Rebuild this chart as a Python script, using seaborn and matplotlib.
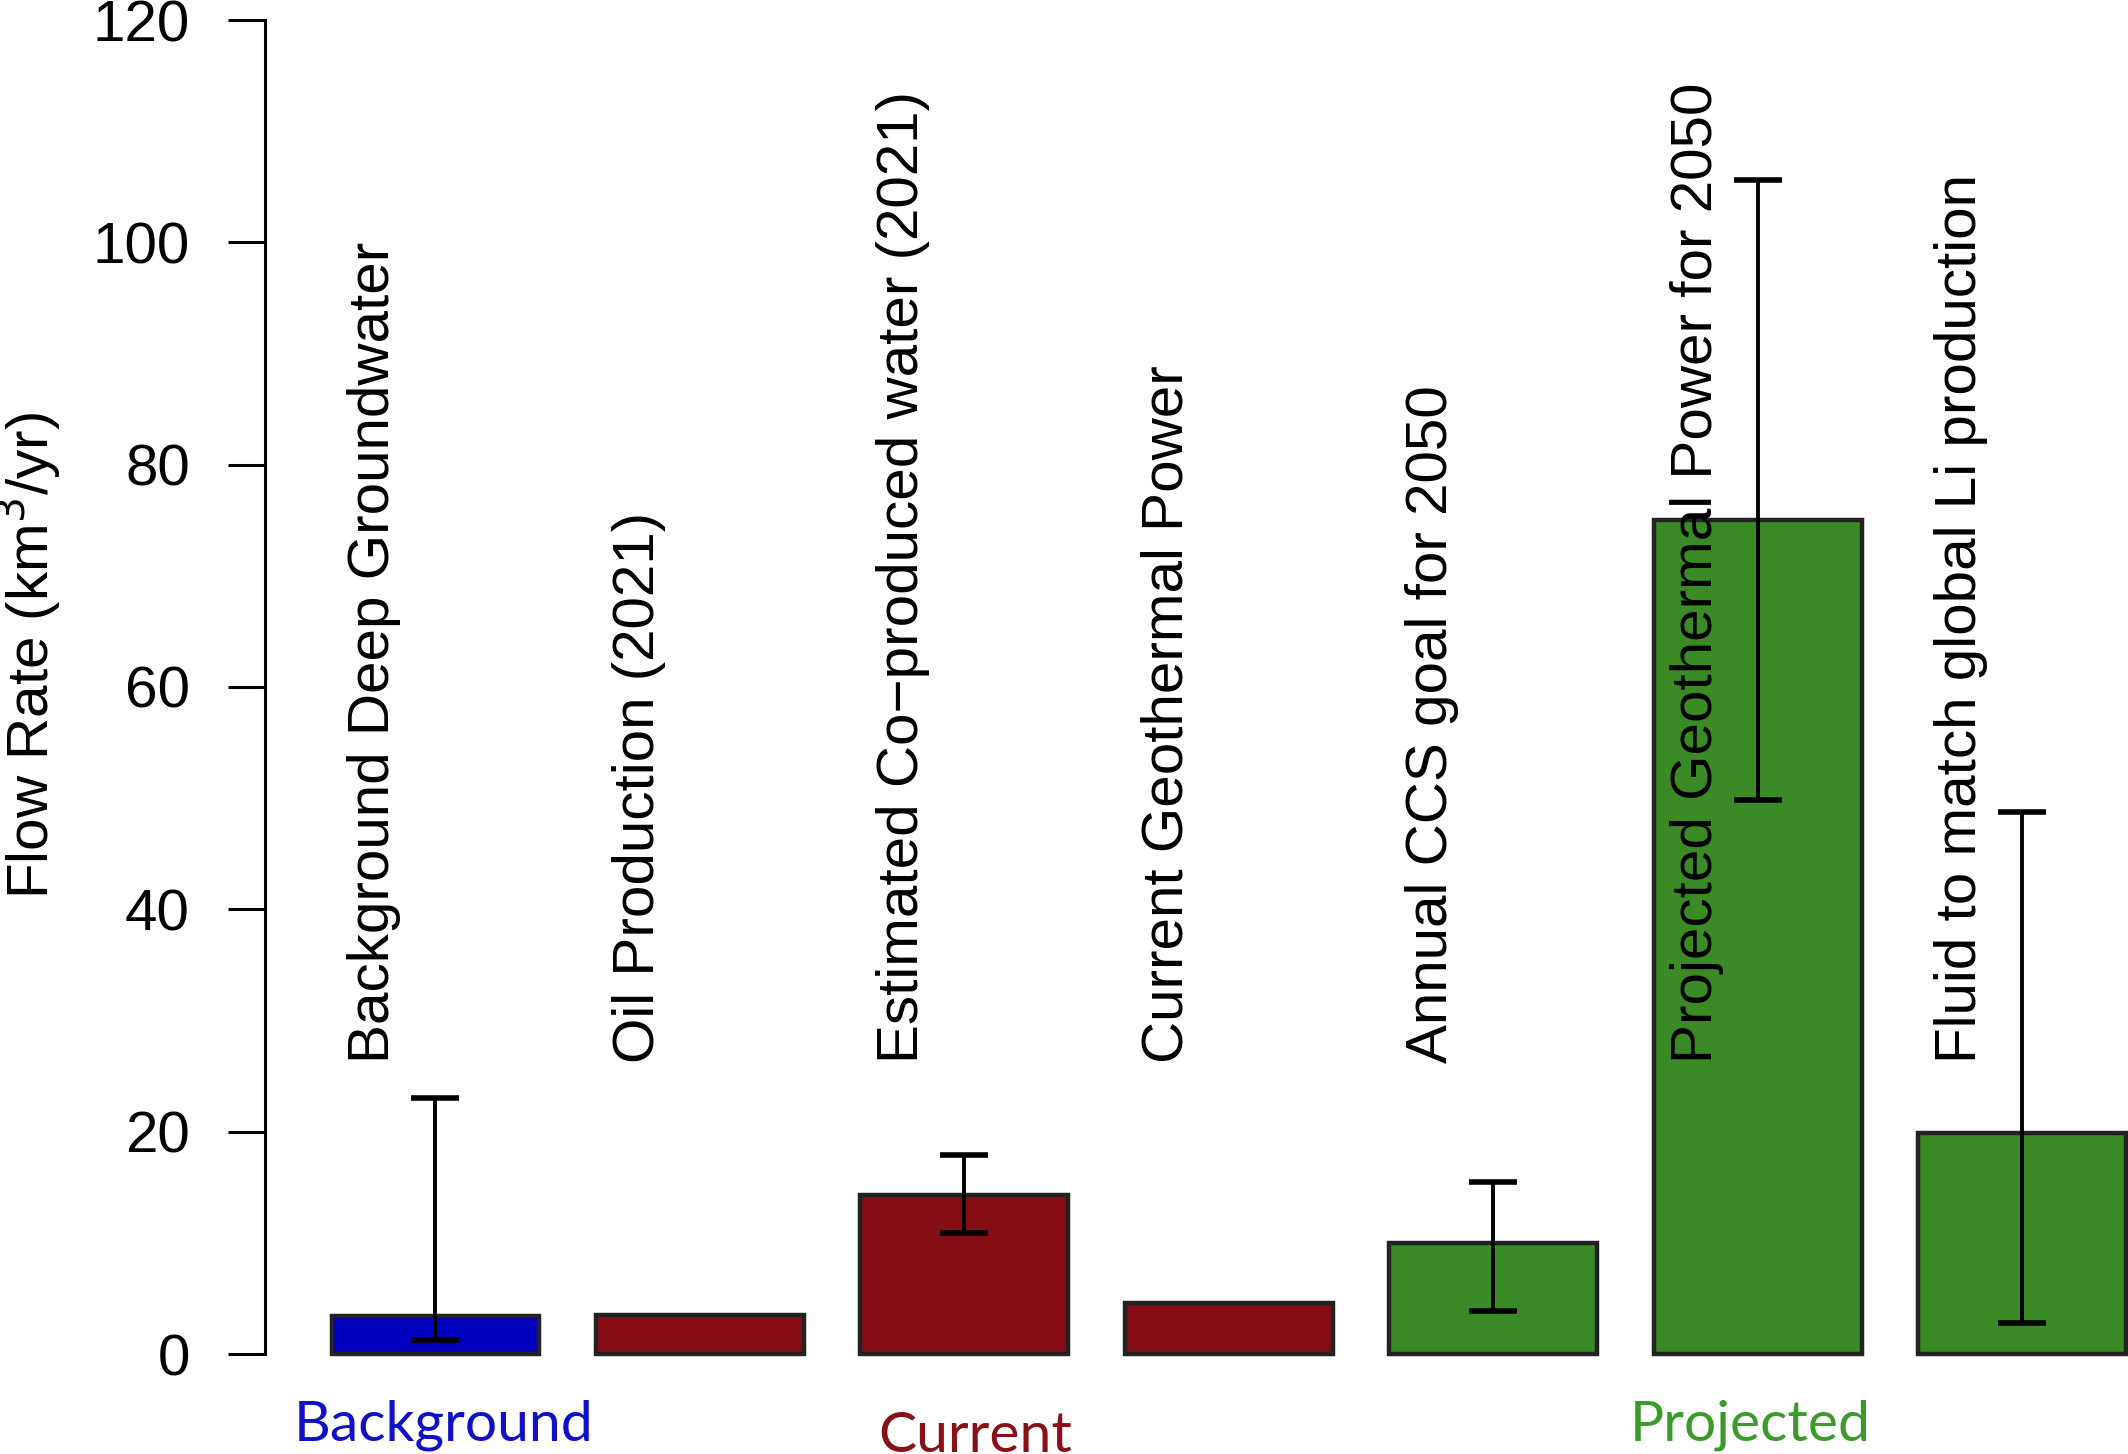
import matplotlib
matplotlib.use("Agg")
import matplotlib.pyplot as plt
import seaborn as sns
import numpy as np

# data
labels = ["Background Deep Groundwater", "Oil Production (2021)",
          "Estimated Co\u2212produced water (2021)", "Current Geothermal Power",
          "Annual CCS goal for 2050", "Projected Geothermal Power for 2050",
          "Fluid to match global Li production"]
flow = [3.4, 3.5, 14.3, 4.6, 10.0, 75.0, 19.9]
err_low = [1.3, np.nan, 10.9, np.nan, 3.9, 49.8, 2.8]
err_high = [23.0, np.nan, 17.9, np.nan, 15.5, 105.6, 48.8]
group = ["Background", "Current", "Current", "Current", "Projected", "Projected", "Projected"]

group_colors = {"Background": "#0000BE", "Current": "#870D15", "Projected": "#3A8A25"}
group_text = {"Background": "#1010C8", "Current": "#8A1018", "Projected": "#3A9A2A"}

sns.set_style("white")
plt.rcParams["font.family"] = ["Liberation Sans", "DejaVu Sans"]
plt.rcParams["text.color"] = "black"
plt.rcParams["ytick.color"] = "black"

fig = plt.figure(figsize=(21.28, 14.54), dpi=100)
ax = fig.add_axes([265 / 2128, 100 / 1454, 1 - 265 / 2128, 1334 / 1454])

sns.barplot(x=labels, y=flow, hue=labels, palette=[group_colors[g] for g in group],
            legend=False, width=0.785, saturation=1, edgecolor="#222222", linewidth=3.2, ax=ax)
for p in ax.patches:
    p.set_clip_on(False)

# asymmetric ranges
x = np.arange(len(flow))
val = np.array(flow)
lo = np.array(err_low)
hi = np.array(err_high)
ok = ~np.isnan(lo)
ax.errorbar(x[ok], val[ok], yerr=[val[ok] - lo[ok], hi[ok] - val[ok]], fmt="none",
            ecolor="black", elinewidth=2.8, capsize=17, capthick=4, clip_on=False, zorder=5)

for i, lab in enumerate(labels):
    ax.text(i - 0.23, 26.2, lab, rotation=90, ha="center", va="bottom",
            fontsize=42, color="black", zorder=6)

ax.set_xlim(-0.644, 6.40)
ax.set_ylim(0, 120)
ax.set_yticks(range(0, 121, 20))
ax.set_xticks([])
ax.set_xlabel("")
ax.tick_params(axis="y", labelsize=42, labelcolor="black", length=27, width=2.2, pad=27,
               direction="out", left=True)
for s in ["top", "right", "bottom"]:
    ax.spines[s].set_visible(False)
ax.spines["left"].set_linewidth(2.2)
ax.spines["left"].set_color("black")
ax.set_ylabel("")

fig.text(28 / 2128, 0.549, "Flow Rate (km$^3$/yr)", rotation=90, ha="center", va="center",
         fontsize=42, color="black")

# group captions under the axis
for g, xp, yp in [("Background", 0.03, -7.8), ("Current", 2.04, -8.8), ("Projected", 4.97, -7.8)]:
    ax.text(xp, yp, g, ha="center", va="baseline", fontsize=41, color=group_text[g],
            family=["Lato", "DejaVu Sans"], clip_on=False)

fig.savefig("out.png", dpi=100, facecolor="white")
